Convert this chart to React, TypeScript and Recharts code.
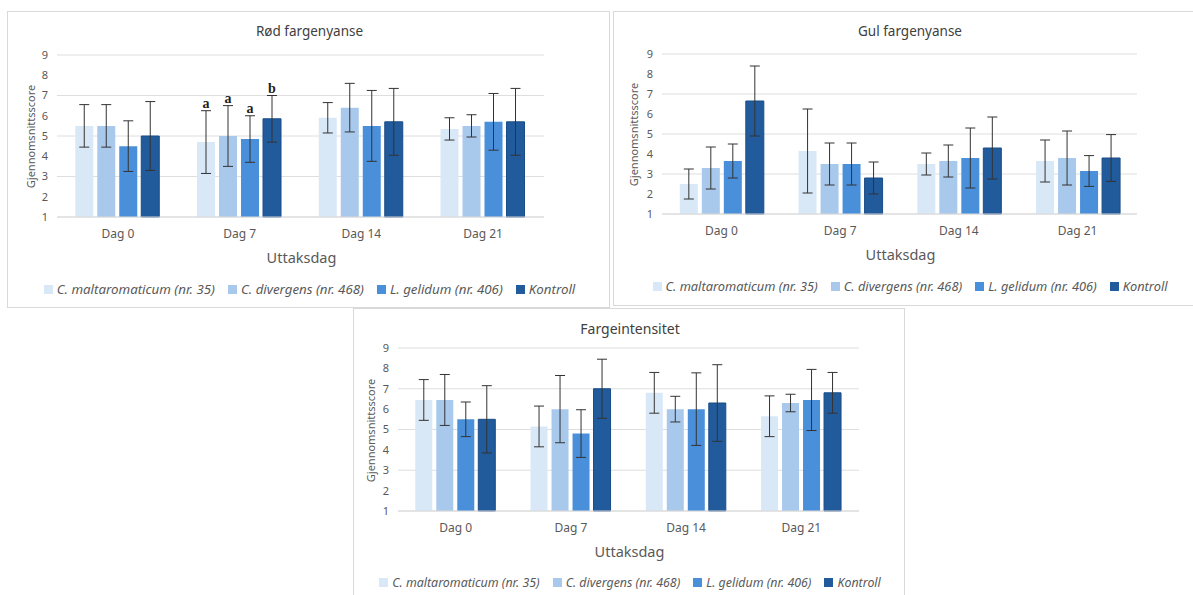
import React from 'react';
import { BarChart, Bar, XAxis, YAxis, CartesianGrid, ErrorBar, LabelList } from 'recharts';

const days = ['Dag 0', 'Dag 7', 'Dag 14', 'Dag 21'];
const seriesNames = ['C. maltaromaticum (nr. 35)', 'C. divergens (nr. 468)', 'L. gelidum (nr. 406)', 'Kontroll'];
const colors = ['#d9e8f7', '#a9c9ec', '#4a8fd9', '#215b9c'];
const yTicks = [1, 2, 3, 4, 5, 6, 7, 8, 9];

// one row per series, one value per day
const rodMeans = [
  [5.5, 4.7, 5.9, 5.35],
  [5.5, 5.0, 6.4, 5.5],
  [4.5, 4.85, 5.5, 5.7],
  [5.0, 5.85, 5.7, 5.7],
];
const rodErrors = [
  [1.05, 1.55, 0.75, 0.55],
  [1.05, 1.5, 1.2, 0.55],
  [1.25, 1.15, 1.75, 1.4],
  [1.7, 1.15, 1.65, 1.65],
];
const rodLetters = [
  ['', 'a', '', ''],
  ['', 'a', '', ''],
  ['', 'a', '', ''],
  ['', 'b', '', ''],
];

const gulMeans = [
  [2.5, 4.15, 3.5, 3.65],
  [3.3, 3.5, 3.65, 3.8],
  [3.65, 3.5, 3.8, 3.15],
  [6.65, 2.8, 4.3, 3.8],
];
const gulErrors = [
  [0.75, 2.1, 0.55, 1.05],
  [1.05, 1.05, 0.8, 1.35],
  [0.85, 1.05, 1.5, 0.77],
  [1.75, 0.8, 1.55, 1.17],
];

const intMeans = [
  [6.45, 5.15, 6.8, 5.65],
  [6.45, 6.0, 6.0, 6.3],
  [5.5, 4.8, 6.0, 6.45],
  [5.5, 7.0, 6.3, 6.8],
];
const intErrors = [
  [1.0, 1.0, 1.0, 1.0],
  [1.25, 1.65, 0.63, 0.43],
  [0.85, 1.17, 1.78, 1.5],
  [1.65, 1.45, 1.88, 1.0],
];

const font = '"Noto Sans", "Open Sans", sans-serif';
const grey = '#595959';

type PanelProps = {
  title: string;
  means: number[][];
  errors: number[][];
  letters?: string[][];
  left: number;
  top: number;
  width: number;
  height: number;
  plotLeft: number;
  plotRight: number;
  plotTop: number;
  plotBottom: number;
  yLabelX: number;
  legendSize: number;
  titleSize: number;
};

const Panel = (p: PanelProps) => {
  const rows = days.map((d, i) => {
    const row: Record<string, string | number> = { day: d };
    p.means.forEach((s, k) => {
      row['m' + k] = s[i];
      row['e' + k] = p.errors[k][i];
    });
    return row;
  });
  const xAxisH = 50;
  const plotH = p.plotBottom - p.plotTop;

  const letterLabel = (k: number) => (props: any) => {
    const { x, y, width, height, index, value } = props;
    const txt = p.letters ? p.letters[k][index] : '';
    if (!txt) return null;
    const perUnit = height / (value - 1);
    const errTop = y - p.errors[k][index] * perUnit;
    return (
      <text x={x + width / 2} y={errTop - 3} textAnchor="middle"
        style={{ fontFamily: '"Liberation Serif", serif', fontWeight: 700, fontSize: 14, fill: '#222' }}>
        {txt}
      </text>
    );
  };

  return (
    <div style={{ position: 'absolute', left: p.left, top: p.top, width: p.width, height: p.height, border: '1px solid #d9d9d9', boxSizing: 'border-box', background: '#fff', fontFamily: font }}>
      <div style={{ position: 'absolute', left: 0, width: p.width, top: 10, textAlign: 'center', fontSize: p.titleSize, color: '#404040' }}>{p.title}</div>
      <div style={{ position: 'absolute', left: p.yLabelX - 80, width: 160, top: p.plotTop + plotH / 2 - 8, textAlign: 'center', fontSize: 11, color: grey, transform: 'rotate(-90deg)' }}>Gjennomsnittsscore</div>
      <div style={{ position: 'absolute', left: p.plotLeft, width: p.plotRight - p.plotLeft, top: p.plotBottom + 29, textAlign: 'center', fontSize: 14.5, color: grey }}>Uttaksdag</div>
      <BarChart width={p.width} height={p.height} data={rows} barGap={4} barCategoryGap="15%"
        margin={{ top: p.plotTop, right: p.width - p.plotRight, bottom: p.height - p.plotBottom - xAxisH, left: 0 }}
        style={{ position: 'absolute', left: -1, top: -1 }}>
        <CartesianGrid vertical={false} stroke="#dedede" />
        <XAxis dataKey="day" height={xAxisH} axisLine={{ stroke: '#d9d9d9' }} tickLine={false} tickMargin={6}
          tick={{ fontSize: 12, fill: grey, fontFamily: font }} />
        <YAxis width={p.plotLeft} domain={[1, 9]} ticks={yTicks} axisLine={false} tickLine={false} tickMargin={3}
          tick={{ fontSize: 11, fill: grey, fontFamily: font }} />
        {seriesNames.map((n, k) => (
          <Bar key={n} dataKey={'m' + k} name={n} fill={colors[k]} stroke={k === 3 ? '#1a4c86' : 'none'} isAnimationActive={false}>
            <ErrorBar dataKey={'e' + k} width={5} stroke="#333" strokeWidth={1} direction="y" />
            {p.letters && <LabelList dataKey={'m' + k} content={letterLabel(k)} />}
          </Bar>
        ))}
      </BarChart>
      <div style={{ position: 'absolute', left: 0, width: p.width, top: p.plotBottom + 62, display: 'flex', justifyContent: 'center', gap: 13, fontSize: p.legendSize, fontStyle: 'italic', color: grey }}>
        {seriesNames.map((n, k) => (
          <span key={n} style={{ display: 'flex', alignItems: 'center' }}>
            <span style={{ display: 'inline-block', width: 9, height: 9, background: colors[k], marginRight: 4 }} />
            {n}
          </span>
        ))}
      </div>
    </div>
  );
};

export default function App() {
  return (
    <div style={{ position: 'fixed', left: 0, top: 0, width: 1193, height: 595, background: '#fff', overflow: 'hidden' }}>
      <Panel title="Rød fargenyanse" means={rodMeans} errors={rodErrors} letters={rodLetters}
        left={7} top={11} width={603} height={297} plotLeft={50} plotRight={537} plotTop={44} plotBottom={206} yLabelX={22}
        legendSize={13.3} titleSize={13.5} />
      <Panel title="Gul fargenyanse" means={gulMeans} errors={gulErrors}
        left={613} top={11} width={592} height={295} plotLeft={49} plotRight={524} plotTop={43} plotBottom={203} yLabelX={19}
        legendSize={12.8} titleSize={13.5} />
      <Panel title="Fargeintensitet" means={intMeans} errors={intErrors}
        left={353} top={308} width={552} height={300} plotLeft={45} plotRight={506} plotTop={40} plotBottom={203} yLabelX={16}
        legendSize={12.4} titleSize={14} />
    </div>
  );
}
